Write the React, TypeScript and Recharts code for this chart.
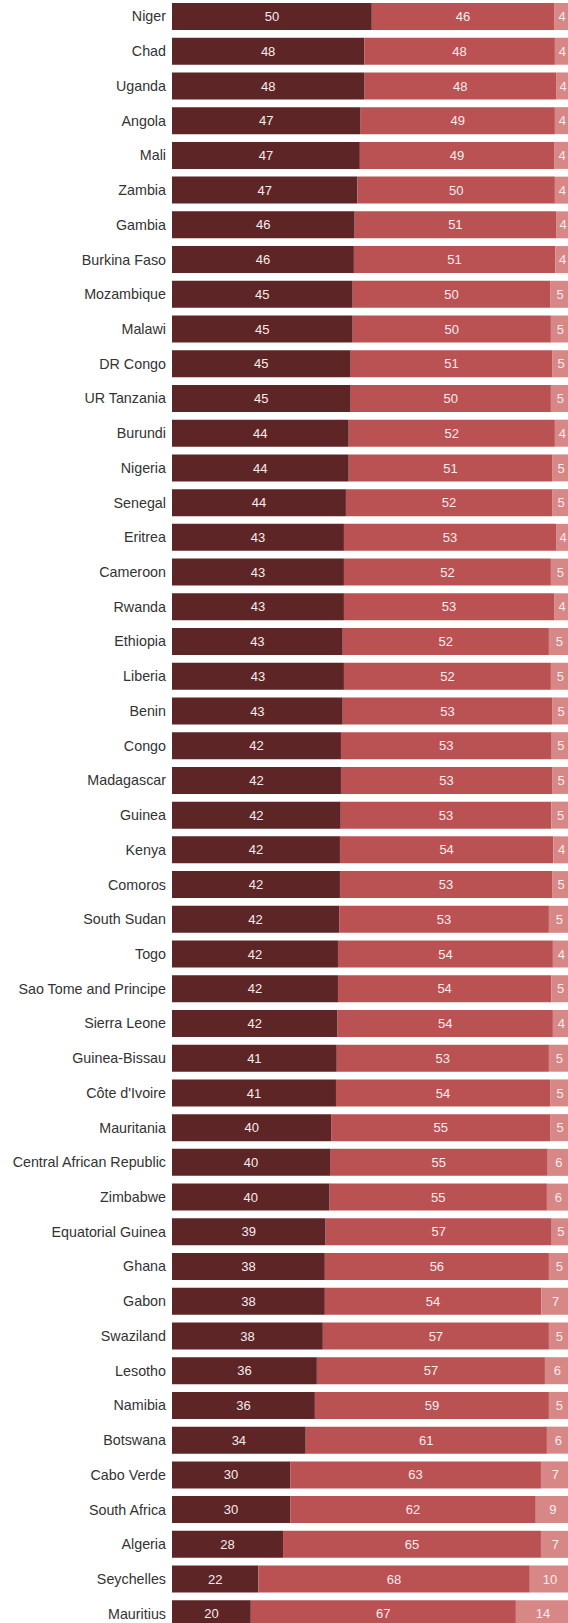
import React from "react";
import { BarChart, Bar, XAxis, YAxis, LabelList } from "recharts";

const countries = [
  "Niger", "Chad", "Uganda", "Angola", "Mali", "Zambia", "Gambia", "Burkina Faso",
  "Mozambique", "Malawi", "DR Congo", "UR Tanzania", "Burundi", "Nigeria", "Senegal",
  "Eritrea", "Cameroon", "Rwanda", "Ethiopia", "Liberia", "Benin", "Congo", "Madagascar",
  "Guinea", "Kenya", "Comoros", "South Sudan", "Togo", "Sao Tome and Principe",
  "Sierra Leone", "Guinea-Bissau", "Côte d'Ivoire", "Mauritania", "Central African Republic",
  "Zimbabwe", "Equatorial Guinea", "Ghana", "Gabon", "Swaziland", "Lesotho", "Namibia",
  "Botswana", "Cabo Verde", "South Africa", "Algeria", "Seychelles", "Mauritius",
];

const young = [
  50.2, 48.3, 48.4, 47.4, 47.2, 46.6, 45.9, 45.7, 45.4, 45.4, 44.9, 44.9, 44.4, 44.4, 43.7,
  43.2, 43.2, 43.2, 42.9, 43.2, 42.9, 42.45, 42.45, 42.4, 42.2, 42.2, 42.0, 41.7, 41.7,
  41.6, 41.4, 41.2, 40.1, 39.7, 39.6, 38.6, 38.4, 38.4, 37.9, 36.4, 35.9, 33.6, 29.7,
  29.7, 27.9, 21.7, 19.8,
];

const working = [
  45.8, 47.9, 48.1, 48.8, 48.8, 49.6, 50.6, 50.6, 49.6, 49.8, 50.6, 50.3, 51.8, 51.1, 51.8,
  53.3, 52.0, 52.8, 51.8, 52.0, 52.6, 52.95, 53.05, 52.9, 53.6, 53.3, 52.7, 54.0, 53.6,
  54.1, 53.3, 53.8, 54.9, 54.7, 54.6, 56.8, 56.3, 54.4, 56.8, 57.3, 58.8, 60.6, 63.0,
  61.7, 64.8, 68.2, 66.6,
];

const old = [
  4.0, 3.8, 3.5, 3.8, 4.0, 3.8, 3.5, 3.7, 5.0, 4.8, 4.5, 4.8, 3.8, 4.5, 4.5,
  3.5, 4.8, 4.0, 5.3, 4.8, 4.5, 4.6, 4.5, 4.7, 4.2, 4.5, 5.3, 4.3, 4.7,
  4.3, 5.3, 5.0, 5.0, 5.6, 5.8, 4.6, 5.3, 7.2, 5.3, 6.3, 5.3, 5.8, 7.3,
  8.6, 7.3, 10.1, 13.6,
];

const data = countries.map((country, i) => ({
  country,
  young: young[i],
  working: working[i],
  old: old[i],
}));

const fmt = (v: any) => Math.round(Number(v));
const labelStyle = { fill: "#f7ecec", fontSize: 13, fontFamily: "'Liberation Sans', Arial, sans-serif" };

export default function App() {
  return (
    <div style={{ width: 568, height: 1623, overflow: "hidden", position: "absolute", left: 0, top: 0 }}>
      <style>{"body{margin:0;overflow:hidden;}"}</style>
      <BarChart
        width={570}
        height={1631}
        data={data}
        layout="vertical"
        margin={{ top: -1, right: 0, bottom: 0, left: 0 }}
      >
        <XAxis type="number" domain={[0, 100]} hide />
        <YAxis
          type="category"
          dataKey="country"
          width={172}
          interval={0}
          axisLine={false}
          tickLine={false}
          tickSize={4}
          tickMargin={2}
          tick={{ fill: "#333333", fontSize: 14.3, fontFamily: "'Liberation Sans', Arial, sans-serif" }}
        />
        <Bar dataKey="young" stackId="a" fill="#5E2527" barSize={27} isAnimationActive={false}>
          <LabelList dataKey="young" position="center" formatter={fmt} style={labelStyle} />
        </Bar>
        <Bar dataKey="working" stackId="a" fill="#BA5254" barSize={27} isAnimationActive={false}>
          <LabelList dataKey="working" position="center" formatter={fmt} style={labelStyle} />
        </Bar>
        <Bar dataKey="old" stackId="a" fill="#D68786" barSize={27} isAnimationActive={false}>
          <LabelList dataKey="old" position="center" formatter={fmt} style={labelStyle} />
        </Bar>
      </BarChart>
    </div>
  );
}
